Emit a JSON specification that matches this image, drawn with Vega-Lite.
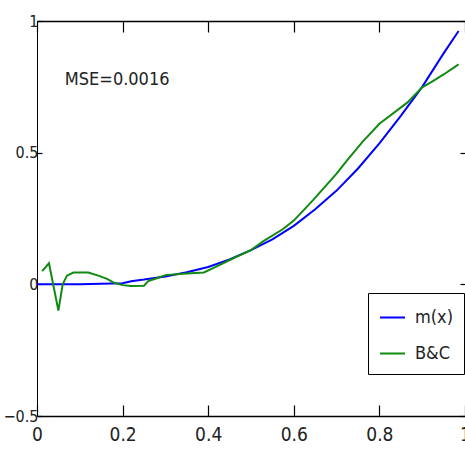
{
  "$schema": "https://vega.github.io/schema/vega-lite/v6.json",
  "width": 428,
  "height": 395,
  "autosize": {"type": "none"},
  "padding": {"left": 37, "top": 21, "right": 0, "bottom": 41},
  "background": "white",
  "config": {
    "view": {"stroke": null},
    "font": "DejaVu Sans Condensed, Liberation Sans, sans-serif",
    "axis": {
      "grid": false,
      "domainColor": "black",
      "domainWidth": 1.5,
      "tickColor": "black",
      "tickWidth": 1.2,
      "labelFont": "DejaVu Sans Condensed, Liberation Sans, sans-serif",
      "labelFontSize": 19,
      "labelColor": "#222222",
      "title": null
    }
  },
  "datasets": {
    "curves": [
      {"x": 0.0, "y": 0.0, "series": "m(x)"},
      {"x": 0.1, "y": 0.0, "series": "m(x)"},
      {"x": 0.2, "y": 0.004, "series": "m(x)"},
      {"x": 0.22, "y": 0.012, "series": "m(x)"},
      {"x": 0.25, "y": 0.018, "series": "m(x)"},
      {"x": 0.3, "y": 0.03, "series": "m(x)"},
      {"x": 0.35, "y": 0.046, "series": "m(x)"},
      {"x": 0.4, "y": 0.066, "series": "m(x)"},
      {"x": 0.45, "y": 0.095, "series": "m(x)"},
      {"x": 0.5, "y": 0.13, "series": "m(x)"},
      {"x": 0.55, "y": 0.171, "series": "m(x)"},
      {"x": 0.6, "y": 0.222, "series": "m(x)"},
      {"x": 0.65, "y": 0.285, "series": "m(x)"},
      {"x": 0.7, "y": 0.356, "series": "m(x)"},
      {"x": 0.75, "y": 0.44, "series": "m(x)"},
      {"x": 0.8, "y": 0.535, "series": "m(x)"},
      {"x": 0.85, "y": 0.64, "series": "m(x)"},
      {"x": 0.9, "y": 0.75, "series": "m(x)"},
      {"x": 0.95, "y": 0.877, "series": "m(x)"},
      {"x": 0.985, "y": 0.962, "series": "m(x)"},
      {"x": 0.012, "y": 0.05, "series": "B&C"},
      {"x": 0.028, "y": 0.08, "series": "B&C"},
      {"x": 0.05, "y": -0.1, "series": "B&C"},
      {"x": 0.06, "y": 0.0, "series": "B&C"},
      {"x": 0.07, "y": 0.033, "series": "B&C"},
      {"x": 0.085, "y": 0.045, "series": "B&C"},
      {"x": 0.12, "y": 0.045, "series": "B&C"},
      {"x": 0.145, "y": 0.032, "series": "B&C"},
      {"x": 0.165, "y": 0.02, "series": "B&C"},
      {"x": 0.18, "y": 0.006, "series": "B&C"},
      {"x": 0.2, "y": -0.003, "series": "B&C"},
      {"x": 0.22, "y": -0.006, "series": "B&C"},
      {"x": 0.25, "y": -0.005, "series": "B&C"},
      {"x": 0.26, "y": 0.012, "series": "B&C"},
      {"x": 0.28, "y": 0.023, "series": "B&C"},
      {"x": 0.3, "y": 0.035, "series": "B&C"},
      {"x": 0.34, "y": 0.04, "series": "B&C"},
      {"x": 0.39, "y": 0.045, "series": "B&C"},
      {"x": 0.42, "y": 0.068, "series": "B&C"},
      {"x": 0.46, "y": 0.1, "series": "B&C"},
      {"x": 0.5, "y": 0.13, "series": "B&C"},
      {"x": 0.53, "y": 0.165, "series": "B&C"},
      {"x": 0.575, "y": 0.21, "series": "B&C"},
      {"x": 0.6, "y": 0.242, "series": "B&C"},
      {"x": 0.645, "y": 0.32, "series": "B&C"},
      {"x": 0.7, "y": 0.42, "series": "B&C"},
      {"x": 0.724, "y": 0.47, "series": "B&C"},
      {"x": 0.76, "y": 0.54, "series": "B&C"},
      {"x": 0.8, "y": 0.61, "series": "B&C"},
      {"x": 0.865, "y": 0.69, "series": "B&C"},
      {"x": 0.9, "y": 0.748, "series": "B&C"},
      {"x": 0.925, "y": 0.772, "series": "B&C"},
      {"x": 0.95, "y": 0.797, "series": "B&C"},
      {"x": 0.985, "y": 0.835, "series": "B&C"}
    ],
    "note": [
      {"x": 0.065, "y": 0.775, "label": "MSE=0.0016"}
    ]
  },
  "layer": [
    {
      "data": {"name": "curves"},
      "mark": {"type": "line", "strokeWidth": 2},
      "encoding": {
        "x": {
          "field": "x", "type": "quantitative",
          "scale": {"domain": [0, 1], "nice": false, "zero": false},
          "axis": {"orient": "bottom", "values": [0, 0.2, 0.4, 0.6, 0.8, 1], "format": "~g", "tickSize": -11, "labelPadding": 20, "labelFlush": false}
        },
        "y": {
          "field": "y", "type": "quantitative",
          "scale": {"domain": [-0.5, 1], "nice": false, "zero": false},
          "axis": {"orient": "left", "values": [-0.5, 0, 0.5, 1], "format": "~g", "tickSize": -5, "labelPadding": 4, "labelFontSize": 16, "domainWidth": 1, "labelFlush": false}
        },
        "color": {
          "field": "series", "type": "nominal",
          "scale": {"domain": ["m(x)", "B&C"], "range": ["#0000ff", "#118a11"]},
          "legend": {
            "title": null,
            "orient": "none",
            "legendX": 331,
            "legendY": 272,
            "fillColor": "white",
            "strokeColor": "black",
            "padding": 11,
            "symbolType": "stroke",
            "symbolSize": 625,
            "symbolStrokeWidth": 2,
            "labelFont": "DejaVu Sans Condensed, Liberation Sans, sans-serif",
            "labelFontSize": 18,
            "labelColor": "#222222",
            "labelOffset": 9,
            "rowPadding": 13
          }
        },
        "order": {"field": "x", "type": "quantitative"}
      }
    },
    {
      "data": {"name": "note"},
      "mark": {"type": "text", "align": "left", "baseline": "middle", "fontSize": 18, "font": "DejaVu Sans Condensed, Liberation Sans, sans-serif", "color": "#222222"},
      "encoding": {
        "x": {
          "field": "x", "type": "quantitative",
          "scale": {"domain": [0, 1], "nice": false, "zero": false},
          "axis": {"orient": "top", "values": [0, 0.2, 0.4, 0.6, 0.8, 1], "tickSize": -11, "labels": false}
        },
        "y": {
          "field": "y", "type": "quantitative",
          "scale": {"domain": [-0.5, 1], "nice": false, "zero": false},
          "axis": {"orient": "right", "values": [-0.5, 0, 0.5, 1], "tickSize": -5, "labels": false, "domainWidth": 1}
        },
        "text": {"field": "label", "type": "nominal"}
      }
    }
  ],
  "resolve": {"axis": {"x": "independent", "y": "independent"}}
}
